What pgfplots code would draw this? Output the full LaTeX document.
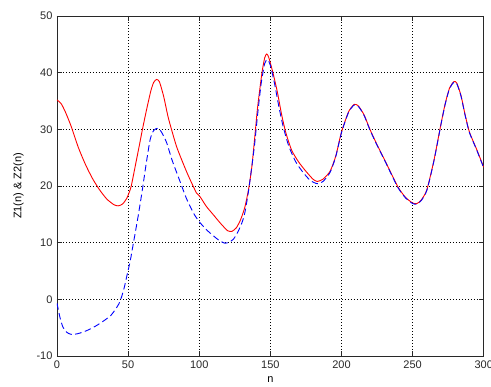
\documentclass[border=0pt]{standalone}
\usepackage{fontspec}
\setmainfont{Liberation Sans}
\usepackage{pgfplots}
\pgfplotsset{compat=1.18}
\definecolor{axisgray}{RGB}{40,40,40}

\begin{document}
\begin{tikzpicture}
\begin{axis}[
  name=ax,
  scale only axis,
  width=426.7pt, height=340pt,
  xmin=0, xmax=300, ymin=-10, ymax=50,
  xtick={0,50,...,300}, ytick={-10,0,...,50},
  tick align=inside, major tick length=5pt,
  xtick pos=both, ytick pos=both,
  axis line style={axisgray, line width=0.8pt},
  tick style={axisgray, line width=0.6pt},
  grid=major,
  major grid style={black, line width=0.6pt, dash pattern=on 0.9pt off 2.1pt},
  font=\fontsize{11}{13}\selectfont,
  tick label style={text=axisgray},
  /pgf/number format/assume math mode=true,
  xticklabel style={yshift=-1pt},
  yticklabel style={xshift=-1pt},
  xlabel={n}, ylabel={Z1(n) \& Z2(n)},
  xlabel style={yshift=-1pt},
  ylabel style={yshift=6pt},
]
% Z1(n)
\addplot[red, line width=0.9pt, smooth, tension=0.4] coordinates {
 (0,35.2) (3,34.5) (6,33.0) (10,30.5) (15,26.8) (20,23.8) (25,21.3)
 (30,19.3) (35,17.7) (40,16.7) (43,16.5) (46,16.8) (49,17.8) (52,19.8)
 (55,23.5) (58,27.3) (60,29.9) (63,33.5) (66,36.8) (68,38.3) (70,38.8)
 (72,38.4) (75,35.8) (78,32.3) (80.6,29.9) (84,27.0) (87.7,24.6) (92,22.0)
 (98,18.8) (100.6,18.1) (105,16.4) (110,14.9) (115,13.4) (120,12.1)
 (123,12.0) (126,12.6) (129,14.0) (132,16.2) (134.6,19.3) (137,23.4)
 (139,28.5) (141,33.8) (144,39.8) (146,42.6) (147.5,43.3) (149,42.6)
 (152,39.8) (155,36.5) (158,32.5) (161,29.3) (165,26.3) (170,24.2)
 (175,22.6) (180,21.2) (183,20.8) (187,21.2) (192,22.6) (196,25.3)
 (200,29.5) (205,33.1) (209,34.4) (212,34.1) (216,32.5) (220,30.0)
 (225,27.3) (230,24.8) (235,22.2) (240,19.7) (245,18.0) (250,17.0)
 (253,16.9) (256,17.5) (260,19.3) (265,24.5) (270,31.0) (273,34.6)
 (276,37.3) (279,38.4) (281,38.2) (284,36.0) (287,32.5) (290,29.5)
 (295,26.5) (300,23.3)
};
% Z2(n)
\addplot[blue, line width=0.9pt, dash pattern=on 6.5pt off 3.5pt, smooth, tension=0.4] coordinates {
 (0,-0.7) (2,-3.1) (4,-4.8) (6,-5.6) (8,-6.0) (10.4,-6.2) (14,-6.1)
 (18,-5.8) (22,-5.4) (28,-4.6) (34,-3.6) (38,-2.8) (41,-1.8) (43.5,-0.8)
 (45.5,0.5) (47.5,2.3) (49,4.0) (51.5,6.8) (53.7,9.9) (57,14.6) (60,19.3)
 (62.5,23.6) (65.5,28.2) (68,29.8) (71,30.2) (73.5,29.5) (77,27.7)
 (81,24.5) (86.5,20.8) (91,17.8) (96,15.2) (100,13.7) (105,12.3)
 (110,11.2) (114,10.4) (118,9.9) (121,10.1) (124,10.6) (127,11.8)
 (130,13.5) (132,15.2) (134.6,19.0) (137,23.5) (139,27.5) (141,32.5)
 (143.5,38.0) (146,41.6) (148,42.3) (150,41.3) (153,38.0) (156,34.0)
 (159,30.5) (163,27.0) (168,24.2) (173,22.4) (178,21.0) (183,20.4)
 (187,20.8) (192,22.4) (196,25.2) (200,29.4) (205,33.0) (209,34.3)
 (212,34.0) (216,32.4) (220,29.9) (225,27.2) (230,24.7) (235,22.1)
 (240,19.6) (245,17.9) (250,16.9) (253,16.8) (256,17.4) (260,19.2)
 (265,24.4) (270,30.9) (273,34.5) (276,37.2) (279,38.3) (281,38.1)
 (284,35.9) (287,32.4) (290,29.4) (295,26.4) (300,23.2)
};
\end{axis}
\pgfresetboundingbox
\path[use as bounding box] ([shift={(-57pt,-31pt)}]ax.south west) rectangle ([shift={(434pt,356pt)}]ax.south west);
\end{tikzpicture}
\end{document}
